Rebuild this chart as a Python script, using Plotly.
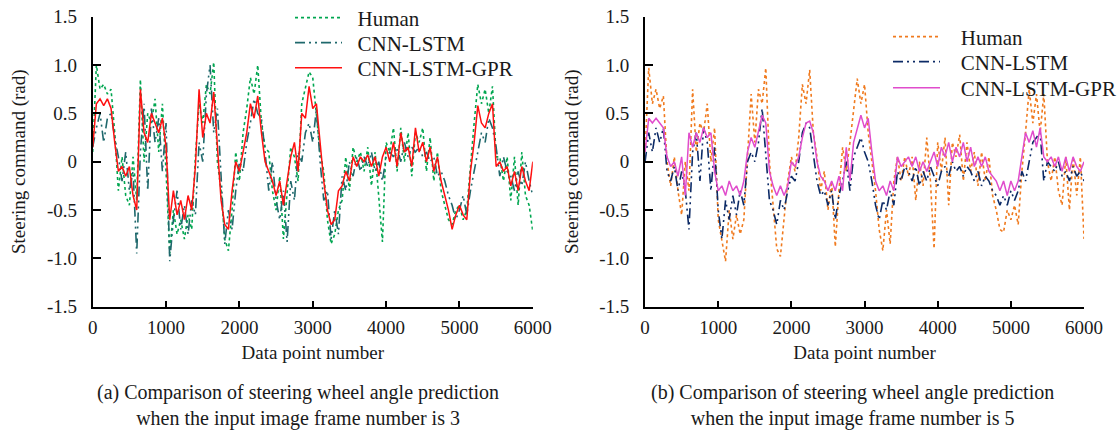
import plotly.graph_objects as go

# x positions (data point number)
x_vals = list(range(0, 6001, 50))

# ---- (a) input image frame number 3 ----
human_a = [0.1, 1.0, 0.75, 0.8, 0.7, 0.75, 0.3, -0.3, 0.05, -0.35, -0.45, 0.05, -0.4, 0.85, 0.0, 0.5, 0.4, 0.65, 0.1, 0.6,
           -0.1, -0.95, -0.5, -0.75, -0.6, -0.8, -0.55, -0.7, 0.05, 0.6, 0.4, 0.8, 0.7, 1.03, 0.0, -0.3, -0.8, -0.92, -0.5, 0.1,
           -0.2, 0.3, 0.55, 0.87, 0.7, 1.0, 0.4, 0.15, 0.1, -0.3, -0.5, -0.15, -0.8, -0.3, 0.15, 0.05, -0.2, 0.6, 0.75, 0.93,
           0.87, 0.5, 0.1, -0.1, -0.6, -0.85, -0.75, -0.5, -0.4, 0.05, -0.3, 0.15, 0.0, 0.1, -0.1, 0.15, -0.25, 0.1, -0.35, -0.83,
           0.2, 0.1, 0.35, -0.1, 0.35, 0.0, 0.3, -0.15, 0.3, 0.2, 0.35, -0.1, 0.25, -0.2, 0.1, -0.3, -0.45, -0.6, -0.65, -0.5,
           -0.45, -0.6, -0.5, 0.0, 0.4, 0.8, 0.6, 0.75, 0.5, 0.78, 0.05, 0.05, -0.2, 0.05, -0.4, 0.05, -0.45, 0.1, -0.35, -0.45,
           -0.72]
cnn_a = [0.15, 0.35, 0.5, 0.2, 0.45, 0.5, 0.25, 0.05, -0.2, 0.1, -0.3, -0.1, -0.95, 0.1, 0.6, -0.3, 0.55, 0.2, 0.45, -0.1,
         0.4, -1.03, -0.6, -0.3, -0.7, -0.45, -0.75, -0.4, -0.55, 0.2, 0.0, 0.7, 1.0, 0.3, 0.55, -0.2, -0.85, -0.5, -0.7, -0.3,
         0.0, -0.1, 0.2, 0.4, 0.65, 0.5, 0.45, 0.1, -0.3, 0.0, -0.4, -0.6, -0.3, -0.83, -0.2, -0.4, 0.1, 0.0, 0.3, 0.4,
         0.2, 0.55, 0.0, -0.4, -0.3, -0.8, -0.5, -0.75, -0.15, -0.3, 0.0, -0.15, 0.05, -0.1, 0.05, -0.05, 0.1, -0.1, 0.0, -0.2,
         0.05, 0.1, 0.05, 0.15, 0.0, 0.2, 0.05, 0.15, 0.1, 0.15, 0.05, 0.1, 0.0, 0.05, -0.15, -0.1, -0.2, -0.35, -0.45, -0.6,
         -0.5, -0.35, -0.55, -0.3, -0.1, 0.1, 0.3, 0.2, 0.45, 0.35, 0.15, -0.15, 0.05, -0.1, -0.15, -0.3, -0.1, -0.25, 0.0, -0.2,
         -0.35]
gpr_a = [0.15, 0.6, 0.65, 0.58, 0.65, 0.55, 0.2, -0.1, -0.05, -0.15, -0.05, -0.35, -0.5, 0.75, 0.3, 0.2, 0.5, 0.4, 0.3, 0.45,
         0.15, -0.6, -0.3, -0.55, -0.4, -0.6, -0.35, -0.5, -0.05, 0.75, 0.25, 0.5, 0.4, 0.72, 0.1, -0.4, -0.65, -0.7, -0.3, 0.0,
         -0.1, 0.1, 0.3, 0.6, 0.45, 0.68, 0.3, 0.0, -0.1, -0.2, -0.35, -0.2, -0.45, -0.2, 0.05, 0.2, -0.1, 0.5, 0.45, 0.78,
         0.55, 0.6, 0.2, -0.2, -0.5, -0.65, -0.6, -0.3, -0.25, -0.1, -0.2, 0.05, -0.05, 0.05, 0.0, 0.07, -0.05, 0.05, -0.15, 0.05,
         0.15, 0.0, 0.2, -0.05, 0.3, 0.1, 0.15, -0.05, 0.35, 0.1, 0.2, 0.0, 0.15, -0.1, 0.05, -0.2, -0.35, -0.5, -0.7, -0.55,
         -0.45, -0.55, -0.6, -0.1, 0.2, 0.58, 0.4, 0.35, 0.5, 0.6, -0.05, 0.0, -0.1, -0.05, -0.25, -0.1, -0.3, -0.05, -0.2, -0.3,
         0.0]

# ---- (b) input image frame number 5 ----
human_b = [0.1, 0.97, 0.6, 0.75, 0.55, 0.68, 0.0, -0.25, 0.05, -0.3, -0.55, 0.0, -0.3, 0.75, 0.1, 0.4, 0.3, 0.6, 0.0, 0.35,
           -0.6, -0.8, -1.03, -0.5, -0.8, -0.55, -0.75, -0.6, 0.1, 0.7, 0.2, 0.75, 0.6, 0.97, 0.0, -0.5, -0.9, -0.98, -0.6, -0.2,
           0.05, -0.1, 0.25, 0.8, 0.6, 0.95, 0.3, 0.05, -0.3, -0.1, -0.5, -0.2, -0.88, -0.3, 0.15, -0.1, 0.2, 0.5, 0.86, 0.6,
           0.8, 0.3, 0.0, -0.3, -0.7, -0.92, -0.5, -0.85, -0.2, 0.05, -0.2, 0.05, -0.15, 0.05, -0.4, 0.0, -0.25, 0.25, -0.2, -0.9,
           0.2, -0.1, 0.25, -0.45, 0.2, 0.05, 0.28, -0.2, 0.2, -0.1, 0.1, -0.25, 0.1, -0.2, 0.05, -0.35, -0.5, -0.7, -0.73, -0.5,
           -0.6, -0.45, -0.65, -0.1, 0.3, 0.75, 0.4, 0.7, 0.3, 0.7, 0.0, -0.2, 0.05, -0.3, -0.45, 0.05, -0.5, 0.05, -0.35, 0.05,
           -0.8]
cnn_b = [0.0, 0.3, 0.1, 0.35, 0.2, 0.35, -0.1, -0.2, -0.05, -0.3, -0.1, -0.3, -0.7, 0.1, 0.3, -0.2, 0.35, 0.2, -0.3, 0.15,
         -0.5, -0.8, -0.4, -0.6, -0.35, -0.55, -0.3, -0.45, 0.0, 0.1, 0.0, 0.2, 0.55, 0.1, -0.4, -0.5, -0.65, -0.4, -0.5, -0.3,
         -0.15, -0.2, 0.0, 0.3, 0.4, 0.35, 0.1, -0.2, -0.35, -0.3, -0.45, -0.3, -0.6, -0.35, -0.2, 0.0, -0.3, 0.05, 0.15, 0.25,
         0.1, 0.0, -0.2, -0.45, -0.6, -0.4, -0.5, -0.3, -0.45, -0.1, -0.2, -0.05, -0.1, -0.2, -0.05, -0.25, -0.1, -0.2, -0.05, -0.15,
         -0.25, -0.1, -0.05, -0.15, 0.0, -0.1, -0.05, -0.15, -0.05, -0.1, -0.2, -0.1, -0.25, -0.15, -0.2, -0.3, -0.35, -0.45, -0.35, -0.45,
         -0.3, -0.4, -0.3, -0.1, -0.2, 0.0, 0.2, 0.25, 0.3, -0.2, 0.0, -0.05, -0.1, 0.0, -0.15, -0.1, -0.2, -0.05, -0.15, -0.1,
         -0.2]
gpr_b = [0.1, 0.45, 0.4, 0.45, 0.4, 0.35, 0.05, -0.05, 0.0, -0.15, 0.05, -0.35, 0.3, 0.15, 0.3, 0.2, 0.35, 0.25, 0.3, -0.1,
         -0.3, -0.25, -0.35, -0.2, -0.3, -0.25, -0.35, -0.2, 0.1, 0.25, 0.15, 0.3, 0.48, 0.4, -0.1, -0.25, -0.35, -0.25, -0.35, -0.25,
         0.0, -0.05, 0.05, 0.25, 0.4, 0.42, 0.3, 0.0, -0.15, -0.2, -0.3, -0.2, -0.3, -0.15, -0.3, 0.15, -0.2, 0.2, 0.35, 0.48,
         0.35, 0.45, 0.1, -0.2, -0.3, -0.25, -0.35, -0.2, -0.3, 0.05, -0.05, 0.0, 0.05, -0.05, 0.05, -0.1, 0.0, -0.1, 0.0, 0.1,
         -0.05, 0.15, 0.05, 0.2, 0.0, 0.15, 0.05, 0.2, 0.0, 0.15, -0.05, 0.05, -0.05, 0.05, -0.1, -0.15, -0.2, -0.3, -0.2, -0.35,
         -0.2, -0.3, -0.2, 0.05, 0.3, 0.2, 0.32, 0.15, 0.35, 0.05, 0.0, 0.05, -0.05, 0.05, -0.1, 0.05, -0.1, 0.05, -0.05, -0.1,
         0.0]

series_names = ["Human", "CNN-LSTM", "CNN-LSTM-GPR"]
y_tickvals = [1.5, 1.0, 0.5, 0, -0.5, -1.0, -1.5]
y_ticktext = ["1.5", "1.0", "0.5", "0", "-0.5", "-1.0", "-1.5"]
x_tickvals = [0, 1000, 2000, 3000, 4000, 5000, 6000]
x_ticktext = ["0", "1000", "2000", "3000", "4000", "5000", "6000"]

FONT = "Liberation Serif, Times New Roman, serif"
TXT = "#1a1a1a"
DASHDOT = "10px,4px,2px,4px,2px,4px"
W, H = 1117, 434

fig = go.Figure()

panel_a = [
    (human_a, "#00a650", "dot", 1.6),
    (cnn_a, "#1f686c", DASHDOT, 1.6),
    (gpr_a, "#ff1010", "solid", 1.5),
]
panel_b = [
    (human_b, "#f07a1e", "dot", 1.6),
    (cnn_b, "#0c2a66", DASHDOT, 1.6),
    (gpr_b, "#e04ccc", "solid", 1.5),
]

# one legend entry per legend box so that row positions match the original
legend_rows_a = [18, 43, 68]
legend_rows_b = [37, 62, 88]
legend_ids = ["legend2", "legend3", "legend4", "legend5", "legend6", "legend7"]

idx = 0
for (ys, col, dash, w), name in zip(panel_a, series_names):
    fig.add_trace(go.Scatter(x=x_vals, y=ys, mode="lines", name="\u00a0\u00a0" + name,
                             line=dict(color=col, dash=dash, width=w),
                             xaxis="x", yaxis="y", legend=legend_ids[idx]))
    idx += 1
for (ys, col, dash, w), name in zip(panel_b, series_names):
    fig.add_trace(go.Scatter(x=x_vals, y=ys, mode="lines", name="\u00a0\u00a0\u00a0" + name,
                             line=dict(color=col, dash=dash, width=w),
                             xaxis="x2", yaxis="y2", legend=legend_ids[idx]))
    idx += 1

ax_common = dict(showgrid=False, zeroline=False, showline=True, linecolor="black", linewidth=1.8,
                 ticks="inside", tickcolor="black", tickwidth=1.8, mirror=False, automargin=False,
                 tickfont=dict(family=FONT, size=19, color=TXT))
xcommon = dict(ax_common, range=[0, 6000], tickvals=x_tickvals, ticktext=x_ticktext, ticklen=6,
               ticklabelstandoff=3,
               title=dict(text="Data point number", font=dict(family=FONT, size=19, color=TXT), standoff=8))
ycommon = dict(ax_common, range=[-1.5, 1.5], tickvals=y_tickvals, ticktext=y_ticktext, ticklen=8,
               ticklabelstandoff=10,
               title=dict(text="Steering command (rad)", font=dict(family=FONT, size=19, color=TXT), standoff=16))

legend_common = dict(bgcolor="rgba(0,0,0,0)", font=dict(family=FONT, size=21, color=TXT),
                     xanchor="left", yanchor="middle", itemwidth=47, visible=True)

layout_legends = {}
for i, yy in enumerate(legend_rows_a):
    layout_legends[legend_ids[i]] = dict(legend_common, x=290 / W, y=1 - yy / H)
for i, yy in enumerate(legend_rows_b):
    layout_legends[legend_ids[i + 3]] = dict(legend_common, x=888 / W, y=1 - yy / H)

fig.update_layout(
    width=W, height=H, autosize=False, showlegend=True,
    margin=dict(l=0, r=0, t=0, b=0, autoexpand=False),
    paper_bgcolor="white", plot_bgcolor="white",
    font=dict(family=FONT, color=TXT),
    xaxis=dict(xcommon, domain=[0.083, 0.477], anchor="y"),
    yaxis=dict(ycommon, domain=[0.2933, 0.9615], anchor="x"),
    xaxis2=dict(xcommon, domain=[0.5775, 0.9705], anchor="y2"),
    yaxis2=dict(ycommon, domain=[0.2933, 0.9615], anchor="x2"),
    annotations=[
        dict(text="(a) Comparison of steering wheel angle prediction<br>when the input image frame number is 3",
             x=298 / W, y=1 - 405 / H, xref="paper", yref="paper", showarrow=False,
             xanchor="center", yanchor="middle",
             font=dict(family=FONT, size=20, color=TXT), align="center"),
        dict(text="(b) Comparison of steering wheel angle prediction<br>when the input image frame number is 5",
             x=852 / W, y=1 - 405 / H, xref="paper", yref="paper", showarrow=False,
             xanchor="center", yanchor="middle",
             font=dict(family=FONT, size=20, color=TXT), align="center"),
    ],
    **layout_legends,
)

fig.write_html("out.html")
